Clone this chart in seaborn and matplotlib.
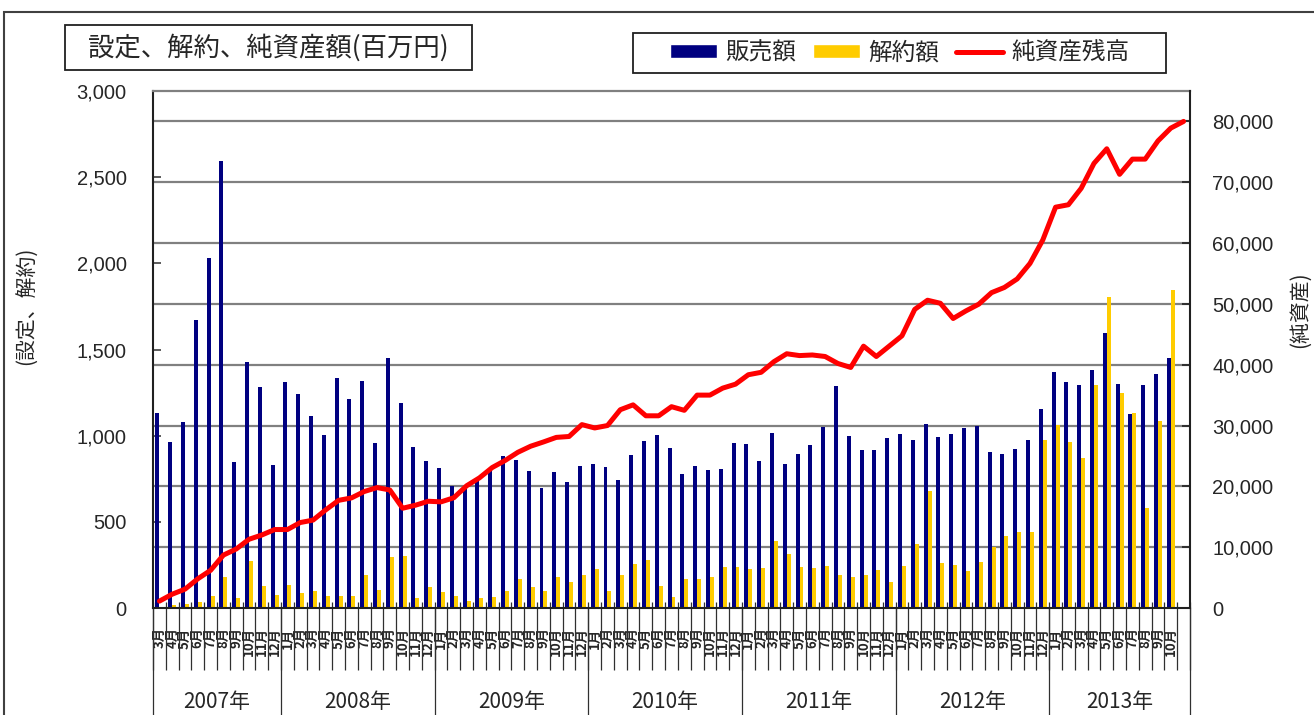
import numpy as np
import pandas as pd
import matplotlib
matplotlib.use('Agg')
import matplotlib.pyplot as plt
import seaborn as sns
from matplotlib.patches import Rectangle, Patch
from matplotlib.lines import Line2D

# 2007/3 - 2013/11
years = [2007, 2008, 2009, 2010, 2011, 2012, 2013]
first_month = 3
last_month = 11

# 販売額 (百万円)
sales = [1130, 966, 1080, 1674, 2030, 2596, 846, 1430, 1282, 830,
         1310, 1244, 1116, 1004, 1336, 1214, 1316, 960, 1450, 1192, 936, 854,
         812, 708, 690, 740, 800, 880, 856, 794, 696, 788, 730, 824,
         836, 820, 740, 886, 968, 1004, 928, 780, 824, 798, 804, 958,
         952, 854, 1016, 834, 896, 944, 1050, 1286, 1000, 918, 918, 986,
         1010, 974, 1066, 994, 1008, 1046, 1056, 908, 896, 922, 976, 1156,
         1370, 1310, 1296, 1382, 1596, 1302, 1124, 1296, 1356, 1450, np.nan]

# 解約額 (百万円)
redemptions = [5, 16, 22, 34, 70, 180, 60, 272, 128, 78,
               134, 88, 98, 72, 70, 72, 192, 104, 296, 300, 60, 120,
               92, 70, 42, 58, 66, 100, 168, 122, 98, 178, 148, 192,
               226, 96, 190, 256, 280, 126, 62, 168, 168, 180, 240, 240,
               224, 234, 388, 316, 240, 230, 244, 192, 180, 192, 220, 148,
               244, 372, 680, 262, 250, 212, 266, 352, 420, 440, 440, 976,
               1060, 966, 868, 1292, 1806, 1246, 1134, 580, 1086, 1846, np.nan]

# 純資産残高 (百万円)
nav = [1130, 2270, 3100, 4800, 6200, 8700, 9700, 11300, 12000, 12900,
       12900, 14050, 14450, 16150, 17700, 18100, 19150, 19800, 19400, 16400, 16900, 17550,
       17450, 18130, 20100, 21400, 23100, 24250, 25600, 26600, 27300, 28050, 28200, 30150,
       29600, 30000, 32600, 33400, 31600, 31600, 33100, 32500, 35000, 35000, 36150, 36800,
       38350, 38750, 40500, 41800, 41500, 41600, 41350, 40200, 39550, 43050, 41350, 43050,
       44750, 49100, 50600, 50100, 47600, 48850, 49950, 51850, 52700, 54100, 56650, 60500,
       65900, 66300, 69000, 73100, 75500, 71300, 73800, 73800, 76800, 78900, 80000]

series_names = ['販売額', '解約額', '純資産残高']
colors = ['#000080', '#FFCC00', '#FF0000']

# category keys and labels
keys, month_labels, year_of = [], [], []
for y in years:
    m0 = first_month if y == years[0] else 1
    m1 = last_month if y == years[-1] else 12
    for m in range(m0, m1 + 1):
        keys.append(f'{y}-{m:02d}')
        month_labels.append(f'{m}月' if (y, m) != (2013, 11) else '')
        year_of.append(y)
n = len(keys)

sns.set_style('white')
plt.rcParams['font.family'] = ['Noto Sans CJK JP', 'DejaVu Sans']

W, H = 1314, 715
fig = plt.figure(figsize=(W / 100, H / 100), dpi=100)
ax = fig.add_axes([153 / W, (H - 608) / H, (1190 - 153) / W, (608 - 91) / H])

df = pd.DataFrame({
    'key': keys * 2,
    'series': [series_names[0]] * n + [series_names[1]] * n,
    'value': sales + redemptions,
}).dropna()

sns.barplot(data=df, x='key', y='value', hue='series', order=keys,
            hue_order=series_names[:2], palette=colors[:2], width=0.62,
            saturation=1, errorbar=None, linewidth=0, legend=False, ax=ax)

ax.set_xlim(-0.5, n - 0.5)
ax.set_ylim(0, 3000)
ax.set_xlabel('')
ax.set_ylabel('')

# gridlines follow the right axis ticks
ax.set_yticks(np.arange(0, 80001, 10000) * 3000 / 85000, minor=True)
ax.yaxis.grid(True, which='minor', color='#808080', linewidth=1.6)
ax.yaxis.grid(False, which='major')
ax.set_axisbelow(True)

yt = np.arange(0, 3001, 500)
ax.set_yticks(yt)
ax.set_yticklabels([f'{v:,}' for v in yt], fontfamily='Liberation Sans', fontsize=14.5)
ax.tick_params(axis='y', which='major', direction='in', length=6, width=1.2,
               color='#404040', pad=19, left=True)
ax.tick_params(axis='y', which='minor', length=0)

ax.set_xticks(range(n))
ax.set_xticklabels(month_labels, rotation=90, fontsize=9.5, fontweight='bold')
ax.tick_params(axis='x', length=0, pad=14)

for s in ['left', 'bottom']:
    ax.spines[s].set_color('#202020')
    ax.spines[s].set_linewidth(1.5)
ax.spines['top'].set_color('#808080')
ax.spines['top'].set_linewidth(1.6)
ax.spines['right'].set_visible(False)

# category separators and year separators below axis
xt = ax.get_xaxis_transform()
ax.vlines(np.arange(n + 1) - 0.5, -0.12, 0.012, transform=xt, color='#303030',
          linewidth=0.9, clip_on=False)
year_list = np.array(year_of)
bounds = [-0.5] + [i - 0.5 for i in range(1, n) if year_list[i] != year_list[i - 1]] + [n - 0.5]
ax.vlines(bounds, -0.22, 0, transform=xt, color='#303030', linewidth=0.9, clip_on=False)
for y in years:
    idx = np.where(year_list == y)[0]
    ax.text(idx.mean(), -0.182, f'{y}年', transform=xt, ha='center', va='center',
            fontsize=15)

ax2 = ax.twinx()
sns.lineplot(x=np.arange(n), y=nav, color=colors[2], linewidth=3.6, ax=ax2)
ax2.set_xlim(-0.5, n - 0.5)
ax2.set_ylim(0, 85000)
rt = np.arange(0, 80001, 10000)
ax2.set_yticks(rt)
ax2.set_yticklabels([f'{v:,}' for v in rt], fontfamily='Liberation Sans', fontsize=14.5)
ax2.tick_params(axis='y', direction='in', length=6, width=1.2, color='#202020', pad=16)
ax2.set_ylabel('')
for s in ['left', 'top', 'bottom']:
    ax2.spines[s].set_visible(False)
ax2.spines['right'].set_color('#202020')
ax2.spines['right'].set_linewidth(1.5)

# axis titles
fig.text(27 / W, 1 - 306 / H, '(設定、解約)', rotation=90, ha='center', va='center', fontsize=15)
fig.text(1300 / W, 1 - 310 / H, '(純資産)', rotation=90, ha='center', va='center', fontsize=15)

# chart title box
fig.patches.append(Rectangle((65 / W, 1 - 70 / H), 407 / W, 45 / H, transform=fig.transFigure,
                             facecolor='white', edgecolor='#202020', linewidth=1.3))
fig.text(268.5 / W, 1 - 47.5 / H, '設定、解約、純資産額(百万円)', ha='center', va='center',
         fontsize=19)

# legend box
fig.patches.append(Rectangle((633 / W, 1 - 73 / H), 533 / W, 40 / H, transform=fig.transFigure,
                             facecolor='white', edgecolor='#202020', linewidth=1.3))
handles = [Patch(facecolor=colors[0]), Patch(facecolor=colors[1]),
           Line2D([], [], color=colors[2], linewidth=3.6)]
fig.legend(handles, series_names, loc='center', bbox_to_anchor=(899.5 / W, 1 - 53 / H),
           ncol=3, frameon=False, fontsize=17, handlelength=2.0, handleheight=0.5,
           handletextpad=0.35, columnspacing=0.7)

# outer chart frame
fig.patches.append(Rectangle((4 / W, -0.1), 1.2, 1.1 - 12 / H, transform=fig.transFigure,
                             facecolor='none', edgecolor='#404040', linewidth=1.5))

fig.savefig('out.png', dpi=100)
plt.close(fig)
